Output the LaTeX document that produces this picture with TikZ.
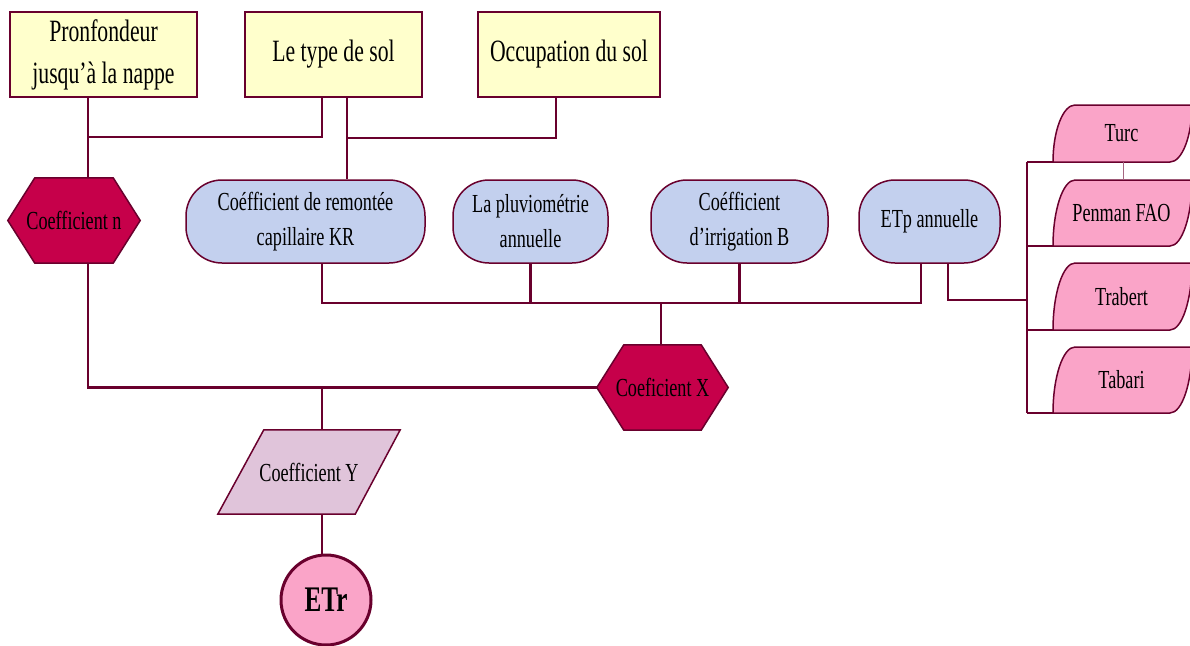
\documentclass[tikz,border=0pt]{standalone}
\usepackage{fontspec}
\setmainfont{Liberation Serif}[FakeStretch=0.7]
\usetikzlibrary{backgrounds}

\definecolor{wine}{RGB}{105,0,45}
\definecolor{paleyellow}{RGB}{255,255,204}
\definecolor{paleblue}{RGB}{195,208,238}
\definecolor{crimson}{RGB}{198,0,74}
\definecolor{rosepink}{RGB}{250,164,200}
\definecolor{mauve}{RGB}{224,196,218}

\begin{document}
\begin{tikzpicture}[x=1pt,y=-1pt,
  every node/.style={inner sep=0pt, align=center, font=\fontsize{26}{35}\selectfont},
  topbox/.style={draw=wine, line width=1.5pt, fill=paleyellow, minimum height=85pt,
                 font=\fontsize{31}{42}\selectfont},
  roundbox/.style={draw=wine, line width=1.5pt, fill=paleblue, rounded corners=36pt,
                   minimum height=83pt},
  hexnode/.style={minimum width=132pt, minimum height=85pt},
  outline/.style={draw=wine, line width=1.5pt},
  conn/.style={draw=wine, line width=2.5pt},
  thinconn/.style={draw=wine, line width=1.5pt},
  hairline/.style={draw=wine!60, line width=0.8pt},
]
\useasboundingbox (0,0) rectangle (1190,645);
\clip (0,0) rectangle (1190,645);

% input factors
\node[topbox, minimum width=187pt] (p) at (103.5,54.5) {Pronfondeur\\jusqu’à la nappe};
\node[topbox, minimum width=177pt] (t) at (333.5,54.5) {Le type de sol};
\node[topbox, minimum width=182pt] (o) at (569,54.5) {Occupation du sol};

% coefficients and climate terms
\node[hexnode] (n) at (74,220.5) {Coefficient n};
\node[roundbox, minimum width=239pt] (kr) at (305.5,221.5) {Coéfficient de remontée\\capillaire KR};
\node[roundbox, minimum width=155pt] (pl) at (530.5,221.5) {La pluviométrie\\annuelle};
\node[roundbox, minimum width=177pt] (ir) at (739.5,221.5) {Coéfficient\\d’irrigation B};
\node[roundbox, minimum width=141pt] (etp) at (929.5,221.5) {ETp annuelle};
\node[hexnode, minimum width=131pt] (x) at (662.5,387.5) {Coeficient X};
\node[minimum width=182pt, minimum height=84pt] (y) at (309,472) {Coefficient Y};
\node[circle, draw=wine, line width=3pt, fill=rosepink, minimum size=90pt,
      font=\bfseries\fontsize{36}{40}\selectfont] (e) at (326,600) {ETr};

% ETp methods: stored-data shapes running off the right edge
\foreach \nm/\txt/\yt/\yb in {tu/Turc/105/162, pe/Penman FAO/180/246,
                                tr/Trabert/263/330, ta/Tabari/347/413}{
  \filldraw[outline, fill=rosepink]
    (1053,\yb) .. controls (1053,{\yb-0.55*(\yb-\yt)}) and (1063,\yt) .. (1075,\yt)
    -- (1192,\yt) .. controls (1192,{\yt+0.55*(\yb-\yt)}) and (1182,\yb) .. (1170,\yb)
    -- cycle;
  \node[minimum width=137pt, minimum height={\yb-\yt}] (\nm) at (1121.5,{(\yt+\yb)/2}) {\txt};
}

% shapes drawn behind their labels
\begin{scope}[on background layer]
  \foreach \h in {n,x}{
    \filldraw[outline, fill=crimson] (\h.west) -- ([xshift=27]\h.north west)
      -- ([xshift=-27]\h.north east) -- (\h.east) -- ([xshift=-27]\h.south east)
      -- ([xshift=27]\h.south west) -- cycle;
  }
  \filldraw[outline, fill=mauve] (y.south west) -- ([xshift=46]y.north west)
    -- (y.north east) -- ([xshift=-45]y.south east) -- cycle;
\end{scope}

% junction points of the connector tree
\coordinate (jn) at (88,137);
\coordinate (js) at (347,138);
\coordinate (jc) at (661,303);
\coordinate (je) at (1027,300);
\coordinate (jy) at (322,387);

% connectors
\draw[conn] (p.south -| jn) -- (n.north -| jn);
\draw[conn] (jn) -| ([xshift=-11.5]t.south);
\draw[conn] (t.south -| js) -- (kr.north -| js);
\draw[conn] (js) -| ([xshift=-13]o.south);
\draw[conn] ([xshift=16.5]kr.south) |- (jc) -| ([xshift=-8.5]etp.south);
\draw[conn] (pl.south) -- (pl.south |- jc);
\draw[conn] (ir.south) -- (ir.south |- jc);
\draw[thinconn] (jc) -- (jc |- x.north);
\draw[conn] ([xshift=18.5]etp.south) |- (je);
\draw[conn] (tu.south west -| je) -- (ta.south west -| je);
\foreach \k in {tu,pe,tr,ta}{
  \draw[conn] (\k.south west -| je) -- (\k.south west);
}
\draw[hairline] ([xshift=1.5]tu.south) -- ([xshift=1.5]pe.north);
\draw[conn] (n.south -| jn) |- (x.west);
\draw[thinconn] (jy) -- (y.north -| jy);
\draw[thinconn] (y.south -| jy) -- (e.north -| jy);
\end{tikzpicture}
\end{document}
